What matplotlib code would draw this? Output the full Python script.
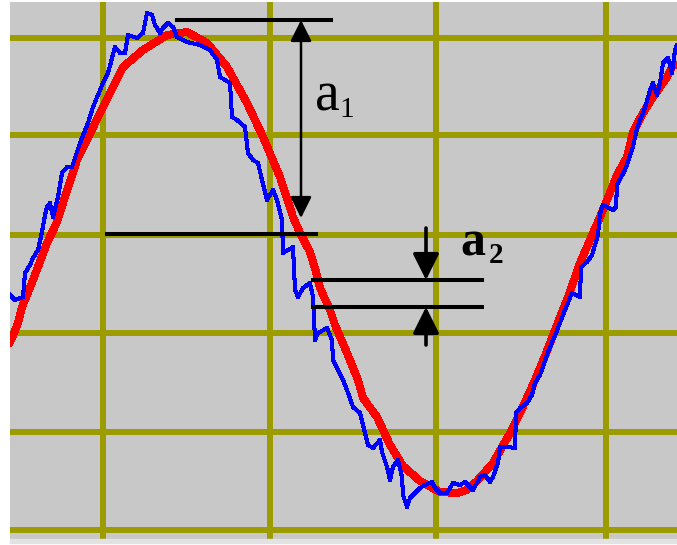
import matplotlib
matplotlib.use("Agg")
import matplotlib.pyplot as plt
from matplotlib.patches import Rectangle

# datos (unidades = pixeles de pantalla del osciloscopio)
red_x = [10, 12, 18, 22, 33, 47, 57, 63, 77, 100, 123, 143, 167, 187, 207, 227,
         247, 263, 280, 293, 300, 310, 316, 320, 330, 335, 347, 358, 363, 377,
         390, 403, 420, 440, 457, 467, 477, 493, 510, 520, 535, 545, 555, 568,
         580, 590, 600, 607, 617, 627, 633, 643, 653, 667, 673, 677]
red_y = [342, 338, 323, 307, 280, 243, 222, 203, 160, 113, 67, 50, 35, 32, 43, 67,
         103, 137, 177, 217, 233, 252, 272, 288, 310, 325, 353, 380, 398, 417,
         445, 466, 481, 492, 493, 490, 481, 463, 433, 413, 380, 356, 330, 297,
         263, 240, 217, 200, 175, 157, 132, 113, 97, 77, 65, 65]

blue_x = [10, 12, 15, 23, 25, 30, 33, 38, 42, 45, 47, 50, 53, 58, 62, 67, 72, 80,
          88, 93, 103, 108, 115, 120, 125, 128, 137, 143, 147, 152, 155, 160,
          163, 168, 173, 177, 187, 200, 210, 217, 220, 230, 232, 237, 245, 248,
          253, 258, 262, 267, 273, 277, 282, 283, 293, 295, 298, 303, 310, 313,
          315, 318, 327, 332, 333, 343, 347, 353, 360, 365, 368, 373, 380, 382,
          387, 390, 393, 398, 402, 403, 407, 410, 415, 420, 425, 432, 435, 440,
          447, 453, 460, 465, 470, 473, 480, 485, 490, 493, 498, 500, 508, 515,
          516, 520, 527, 532, 535, 540, 548, 556, 565, 572, 580, 581, 587, 592,
          598, 600, 603, 613, 616, 617, 625, 632, 638, 645, 650, 653, 657, 660,
          663, 668, 672, 675, 677]
blue_y = [295, 297, 300, 297, 273, 265, 258, 250, 232, 215, 207, 203, 217, 197,
          173, 167, 167, 143, 123, 107, 83, 73, 47, 53, 53, 35, 38, 33, 13, 15,
          25, 33, 28, 23, 27, 37, 42, 45, 50, 60, 77, 83, 117, 120, 127, 153,
          160, 163, 180, 200, 190, 200, 220, 253, 247, 290, 297, 288, 283, 297,
          340, 333, 328, 340, 360, 380, 390, 407, 413, 433, 445, 448, 440, 452,
          467, 480, 467, 460, 477, 495, 507, 498, 493, 488, 485, 482, 488, 493,
          493, 483, 485, 482, 487, 490, 477, 475, 482, 477, 463, 447, 447, 448,
          413, 408, 403, 395, 383, 375, 352, 333, 310, 293, 297, 267, 262, 255,
          235, 213, 205, 210, 207, 185, 170, 150, 125, 108, 90, 83, 95, 83,
          63, 58, 73, 50, 45]

grid_x = [103, 270, 436, 606]
grid_y = [38, 135, 235, 333, 432, 530]

fig = plt.figure(figsize=(6.77, 5.45), dpi=100)
fig.patch.set_facecolor('white')
ax = fig.add_axes([10/677, 6/545, 667/677, 537/545])
ax.set_facecolor('#c8c8c8')
ax.set_xlim(10, 677)
ax.set_ylim(539, 2)
ax.set_xticks(grid_x)
ax.set_yticks(grid_y)
ax.tick_params(length=0, labelbottom=False, labelleft=False)
ax.grid(True, color='#9c9c00', linewidth=3.2, antialiased=False)
ax.set_axisbelow(True)
for s in ax.spines.values():
    s.set_visible(False)

fig.patches.append(Rectangle((10/677, 2/545), 667/677, 4/545,
                             transform=fig.transFigure, color='#e2e2e2'))

# señales
ax.plot(red_x, red_y, color='#ff0000', linewidth=5, antialiased=False)
ax.plot(blue_x, blue_y, color='#0000ff', linewidth=2.2, antialiased=False)

# cotas
ax.plot([177, 331], [20, 20], color='black', linewidth=2.9)
ax.plot([107, 316], [234, 234], color='black', linewidth=2.9)
ax.annotate('', xy=(301, 20), xytext=(301, 218),
            arrowprops=dict(arrowstyle='<|-|>,head_length=13,head_width=6.5',
                            mutation_scale=1, color='black', linewidth=1.8,
                            shrinkA=0, shrinkB=0))

ax.plot([313, 482], [280, 280], color='black', linewidth=2.9)
ax.plot([313, 482], [307, 307], color='black', linewidth=2.9)
ax.annotate('', xy=(426, 280), xytext=(426, 228),
            arrowprops=dict(arrowstyle='-|>,head_length=16,head_width=8',
                            mutation_scale=1, color='black', linewidth=2.6,
                            shrinkA=0, shrinkB=0))
ax.annotate('', xy=(426, 307), xytext=(426, 345),
            arrowprops=dict(arrowstyle='-|>,head_length=16,head_width=8',
                            mutation_scale=1, color='black', linewidth=2.6,
                            shrinkA=0, shrinkB=0))

ax.text(315, 110, 'a', fontsize=40, family='Liberation Serif', va='baseline')
ax.text(339, 117, '1', fontsize=21, family='Liberation Serif', va='baseline')
ax.text(460, 255, 'a', fontsize=36, family='Liberation Serif',
        fontweight='bold', va='baseline')
ax.text(489, 263, '2', fontsize=21, family='Liberation Serif',
        fontweight='bold', va='baseline')

fig.savefig('out.png', dpi=100)
